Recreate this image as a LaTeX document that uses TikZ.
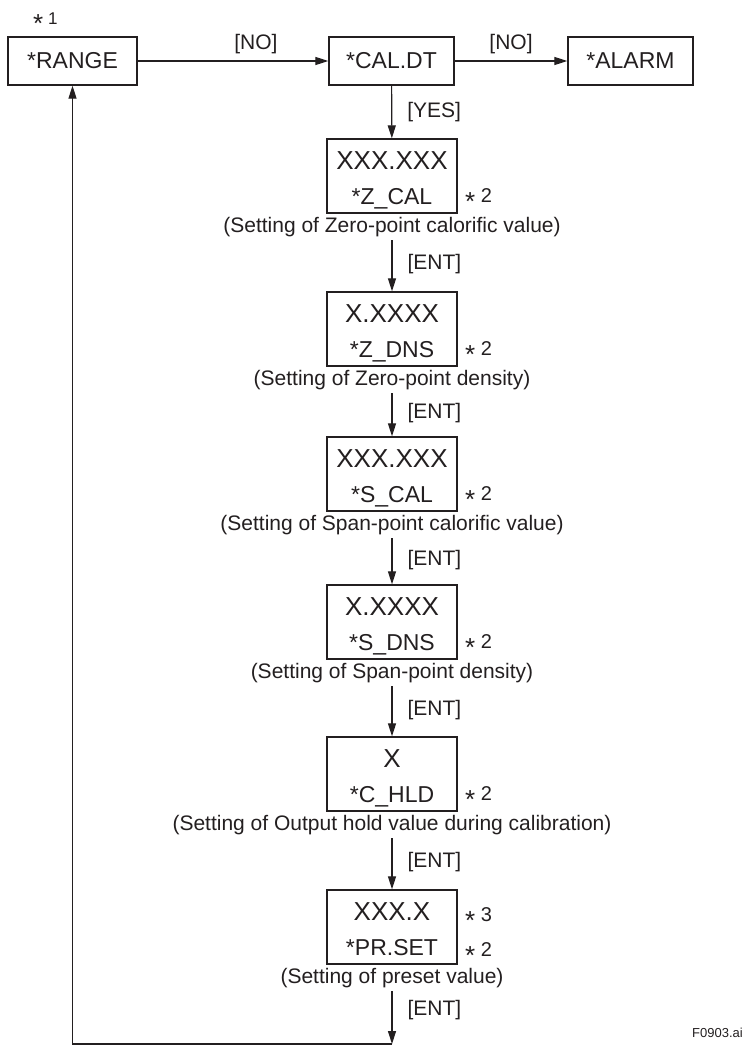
\documentclass[tikz,border=0pt]{standalone}
\usepackage{fontspec}
\setmainfont{Liberation Sans}
\usetikzlibrary{arrows.meta,positioning}
\definecolor{ink}{HTML}{231F20}
\newcommand{\fs}[1]{\fontsize{#1}{#1}\selectfont}
\newcommand{\mk}[1]{\smash{\raisebox{-8pt}{\fs{26}*}} #1}
% a setting panel: name, top, value, item, caption
\newcommand{\panel}[5]{\node[setbox] (#1) at (392,#2+37) {};
	\node[valtxt] (#1v) at (392,#2+30) {#3};
	\node[itemtxt] (#1i) at (392,#2+65.5) {#4};
	\node[captxt] (#1c) at (392,#2+93.5) {#5}}

\begin{document}
\begin{tikzpicture}[x=1pt, y=-1pt, ink,
	box/.style={draw=ink, line width=1.3pt, minimum width=125pt, minimum height=48pt, inner sep=0pt, font=\fs{23}},
	setbox/.style={draw=ink, line width=1.3pt, minimum width=130pt, minimum height=74pt, inner sep=0pt},
	valtxt/.style={anchor=base, inner sep=0pt, font=\fs{26}},
	itemtxt/.style={anchor=base, inner sep=0pt, font=\fs{23}},
	captxt/.style={anchor=base, inner sep=0pt, font=\fs{21}},
	lbl/.style={inner sep=0pt, font=\fs{21}},
	note/.style={anchor=base west, inner sep=0pt, font=\fs{20}},
	flow/.style={draw=ink, line width=1.2pt, -{Triangle[length=13pt,width=8pt]}},
	capflow/.style={flow, shorten <=3pt}]
\useasboundingbox (0,0) rectangle (744,1046);
%Top row
	\node[box, minimum width=129pt] (range) at (72.5,61) {*RANGE};
	\node[box] (caldt) at (391.5,61) {*CAL.DT};
	\node[box] (alarm) at (630.5,61) {*ALARM};
	\node[note, font=\fs{17}] (n1) at (33,25) {\mk{1}};
%The settings
	\panel{zcal}{139}{XXX.XXX}{*Z\_CAL}{(Setting of Zero-point calorific value)};
	\panel{zdns}{292}{X.XXXX}{*Z\_DNS}{(Setting of Zero-point density)};
	\panel{scal}{437}{XXX.XXX}{*S\_CAL}{(Setting of Span-point calorific value)};
	\panel{sdns}{585}{X.XXXX}{*S\_DNS}{(Setting of Span-point density)};
	\panel{chld}{737}{X}{*C\_HLD}{(Setting of Output hold value during calibration)};
	\panel{prset}{890}{XXX.X}{*PR.SET}{(Setting of preset value)};
%Notes
	\foreach \n/\y in {zcal/139, zdns/292, scal/437, sdns/585, chld/737}
		\node[note] (\n2) at (465,\y+63) {\mk{2}};
	\node[note] (prset3) at (465,921) {\mk{3}};
	\node[note] (prset2) at (465,956) {\mk{2}};
	\node[anchor=base east, inner sep=0pt, font=\fs{13}] (fig) at (743,1037) {F0903.ai};
%Connectors
	\draw[flow] (range) -- node[lbl, above=7pt, pos=0.62] (no1) {[NO]} (caldt);
	\draw[flow] (caldt) -- node[lbl, above=7pt] (no2) {[NO]} (alarm);
	\draw[flow] (caldt) -- node[lbl, right=15pt] (yes) {[YES]} (zcal);
	\draw[capflow] (zcalc) -- node[lbl, right=15pt] (ent1) {[ENT]} (zdns);
	\draw[capflow] (zdnsc) -- node[lbl, right=15pt] (ent2) {[ENT]} (scal);
	\draw[capflow] (scalc) -- node[lbl, right=15pt] (ent3) {[ENT]} (sdns);
	\draw[capflow] (sdnsc) -- node[lbl, right=15pt] (ent4) {[ENT]} (chld);
	\draw[capflow] (chldc) -- node[lbl, right=15pt] (ent5) {[ENT]} (prset);
	\coordinate (turn) at (392,1044);
	\draw[capflow] (prsetc) -- node[lbl, right=15pt, pos=0.4] (ent6) {[ENT]} (turn);
	\draw[flow] (turn) -| (range);
\end{tikzpicture}
\end{document}
